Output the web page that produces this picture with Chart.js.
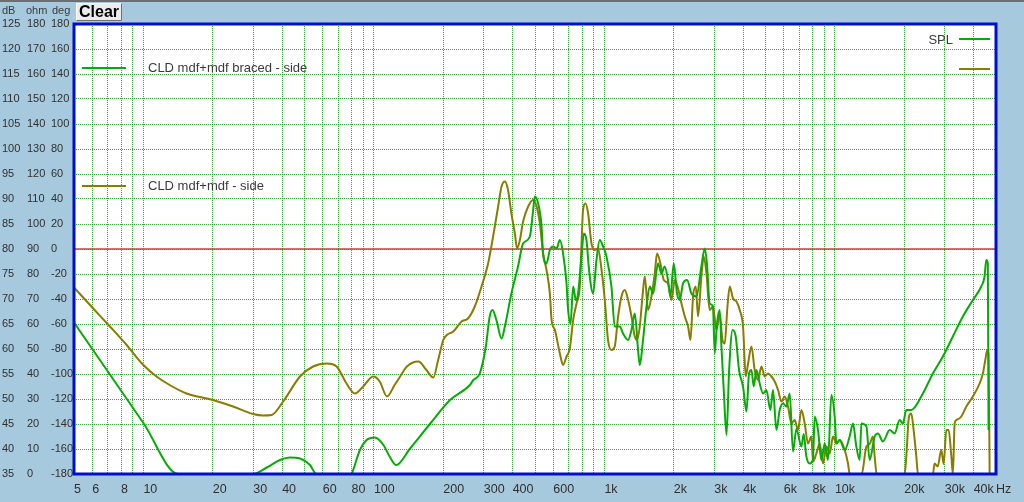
<!DOCTYPE html>
<html>
<head>
<meta charset="utf-8">
<script src="https://cdn.jsdelivr.net/npm/chart.js@4/dist/chart.umd.min.js"></script>
<style>
  html, body { margin: 0; padding: 0; background: #a6c9de; }
  #wrap { width: 1024px; height: 502px; }
</style>
</head>
<body>
<div id="wrap"><canvas id="fr" width="1024" height="502"></canvas></div>
<script>
// frequency grid (Hz) and which of them carry a label
const gridFreqs = [5, 6, 7, 8, 9, 10, 20, 30, 40, 50, 60, 70, 80, 90, 100, 200, 300, 400, 500, 600, 700, 800, 900,
    1000, 2000, 3000, 4000, 5000, 6000, 7000, 8000, 9000, 10000, 20000, 30000, 40000, 50000];
const labelFreqs = [5, 6, 8, 10, 20, 30, 40, 60, 80, 100, 200, 300, 400, 600, 1000, 2000, 3000, 4000, 6000, 8000, 10000, 20000, 30000, 40000, 50000];
const labelTexts = ["5", "6", "8", "10", "20", "30", "40", "60", "80", "100", "200", "300", "400", "600", "1k", "2k", "3k", "4k", "6k", "8k", "10k", "20k", "30k", "40k", "Hz"];

const refLevel = 80; // red reference line, dB

// CLD mdf+mdf braced - side (green)
const bracedFreq = [
    5, 10, 14.2, 29.9, 34.3, 39.1, 43.2, 47.8, 52.8, 56.4,
    80, 81.3, 87, 93, 101, 110, 117, 125, 143, 175,
    214, 261, 270, 288, 306, 318, 327, 340, 358, 370,
    395, 422, 444, 475, 491, 499, 516, 534, 542, 561,
    580, 599, 620, 641, 662, 685, 696, 713, 732, 752,
    769, 796, 814, 836, 858, 893, 924, 955, 987, 1021,
    1073, 1109, 1166, 1205, 1267, 1311, 1355, 1400, 1424, 1471,
    1523, 1574, 1627, 1710, 1768, 1827, 1888, 1934, 1999, 2066,
    2123, 2193, 2284, 2386, 2508, 2635, 2723, 2785, 2863, 2958,
    3010, 3079, 3164, 3219, 3295, 3387, 3477, 3600, 3714, 3838,
    3995, 4133, 4242, 4345, 4445, 4566, 4719, 4878, 5045, 5250,
    5389, 5576, 5763, 5956, 6163, 6368, 6580, 6808, 7157, 7322,
    7521, 7774, 8035, 8173, 8447, 8739, 9033, 9335, 9656, 9980,
    10150, 10490, 11030, 11590, 11980, 12390, 12810, 13030, 13700, 14150,
    14880, 15380, 16160, 17290, 18160, 19090, 19730, 20410, 21450, 24090,
    26620, 29410, 32500, 35910, 39680, 43150, 44600, 45350, 46080, 46410];
const bracedDb = [
    65.3, 45.2, 35, 35, 36.3, 37.8, 38.3, 38.1, 36.8, 35,
    35, 35.8, 39.8, 41.8, 42.3, 40.8, 38.5, 36.8, 40, 45,
    49.8, 52.8, 53.8, 55.1, 60.5, 66.5, 67.8, 65.8, 62.1, 64.5,
    71.1, 76.5, 81.1, 82.5, 87.8, 90.5, 89.1, 84.5, 79.1, 77.1,
    79.8, 80.5, 80.1, 81.8, 79.1, 73.1, 67.8, 65.1, 72.5, 69.8,
    71.1, 78.5, 83.1, 81.8, 75.8, 71.1, 77.8, 81.8, 80.5, 78.5,
    72.5, 64.5, 64.5, 63.1, 61.8, 63.8, 67.1, 59.8, 56.8, 61.8,
    68.5, 72.5, 71.1, 77.1, 75.1, 76.5, 73.8, 70.5, 77.1, 71.1,
    69.8, 73.1, 73.8, 71.1, 70.5, 76.5, 80.1, 77.1, 69.1, 68.5,
    59.1, 65.1, 67.8, 60.5, 51.8, 42.8, 55.8, 63.8, 62.5, 55.8,
    52.5, 47.5, 55.1, 55.8, 52.5, 55.8, 53.1, 51.1, 51.8, 47.8,
    51.8, 43.8, 47.8, 49.1, 48.5, 51.1, 39.5, 44, 40.5, 43,
    38.5, 37.1, 38, 46.5, 43.8, 37.8, 41.1, 37.8, 50.8, 46.5,
    41.1, 41.8, 39.8, 42.5, 45.1, 40.5, 37.8, 45.1, 44.5, 37.8,
    42.5, 43.1, 41.5, 43.8, 43.1, 45.8, 45.1, 47.8, 47.8, 51.1,
    55.1, 58.5, 62.5, 66.5, 69.8, 72.5, 74.5, 77.8, 77.1, 43.8];

// CLD mdf+mdf - side (olive)
const plainFreq = [
    5, 6.06, 7.16, 8.46, 10, 11.4, 13.0, 15.4, 20, 24.5,
    29.9, 33.1, 36, 40.4, 47.8, 54.5, 62.4, 68.9, 76.1, 82.7,
    89.9, 99.3, 106, 114, 123, 130, 139, 156, 169, 181,
    190, 200, 207, 221, 240, 256, 274, 293, 313, 329,
    346, 358, 370, 382, 395, 409, 418, 430, 444, 467,
    491, 508, 525, 542, 561, 580, 590, 610, 641, 662,
    685, 708, 732, 757, 782, 796, 808, 828, 850, 879,
    909, 939, 971, 1004, 1037, 1073, 1109, 1147, 1186, 1226,
    1267, 1311, 1355, 1386, 1424, 1463, 1497, 1547, 1600, 1654,
    1692, 1751, 1810, 1888, 1954, 2020, 2087, 2160, 2233, 2307,
    2363, 2425, 2491, 2549, 2635, 2698, 2772, 2863, 2958, 3063,
    3164, 3252, 3328, 3419, 3499, 3615, 3740, 3866, 3995, 4105,
    4201, 4345, 4489, 4640, 4800, 4962, 5129, 5305, 5483, 5667,
    5861, 6058, 6261, 6477, 6694, 6918, 7157, 7396, 7643, 7910,
    8035, 8310, 8591, 8880, 9187, 9495, 9813, 10150, 10490, 11030,
    11400, 11590, 12190, 13070, 13700, 14150, 14630, 14880, 15180, 20070,
    20410, 20960, 21450, 21960, 22560, 22930, 26620, 27080, 27910, 28960,
    29640, 30440, 31150, 32010, 32500, 33080, 33650, 35370, 37180, 39680,
    42450, 43870, 44930, 45850, 46410, 46920];
const plainDb = [
    72.3, 68.1, 64.5, 60.8, 56.8, 54.5, 52.8, 51.1, 49.8, 48.5,
    47.0, 46.7, 46.8, 49.5, 54.5, 56.5, 57.1, 56.5, 53.1, 51.1,
    52.5, 54.5, 53.5, 50.5, 52.8, 54.5, 56.5, 57.5, 55.8, 54.3,
    57.8, 61.8, 62.8, 63.5, 65.5, 66.1, 68.5, 72.5, 77.1, 82.5,
    88.5, 92.5, 93.5, 91.8, 87.1, 83.1, 80.1, 81.8, 85.5, 88.5,
    89.8, 88.5, 85.1, 79.1, 75.8, 71.1, 65.8, 63.8, 59.1, 56.8,
    58.5, 60.1, 65.8, 69.1, 72.5, 81.1, 87.8, 89.1, 87.1, 81.1,
    79.8, 80.1, 76, 69.8, 61.8, 59.8, 60.5, 66.5, 70.5, 71.8,
    69.8, 66.5, 62.5, 61.8, 64.5, 70.5, 74.5, 67.8, 70.5, 75.1,
    79.1, 77.1, 73.8, 73.1, 69.8, 73.8, 72.1, 69.1, 66.5, 64.5,
    61.8, 70.5, 72.5, 66.5, 74.5, 78.5, 75.1, 67.8, 68.5, 63.8,
    67.1, 61.8, 61.1, 68.5, 72.5, 70.1, 69.5, 67.8, 64.5, 54.5,
    57.1, 60.5, 55.8, 53.8, 56.5, 54.5, 55.1, 54.5, 53.5, 51.8,
    49.5, 50.5, 48.5, 45.1, 45.8, 43.8, 47.8, 45.1, 41.1, 42.5,
    37.5, 39.1, 41.1, 37.1, 40.5, 39.1, 42.5, 41.1, 41.8, 39.8,
    37.1, 35, 35, 35, 40.5, 41, 42.5, 38.5, 35, 35,
    38.5, 46.5, 47.1, 43.8, 38.5, 35, 35, 37.1, 36.5, 39.8,
    37, 43.8, 43.8, 38.5, 35, 45.1, 45.8, 46.5, 48.5, 50.5,
    53.1, 55.1, 57.8, 59.8, 59, 35];

const GREEN = "#08aa08";
const OLIVE = "#8a7c00";
const FONT = "Arial, 'Liberation Sans', sans-serif";

const toPoints = (fs, ds) => fs.map((f, i) => ({ x: f, y: ds[i] }));

// background, frame, legends, header texts and the Clear button
const decor = {
    id: "decor",
    beforeDraw(chart) {
        const { ctx, chartArea: a } = chart;
        ctx.save();
        ctx.fillStyle = "#a6c9de";
        ctx.fillRect(0, 0, chart.width, chart.height);
        ctx.fillStyle = "#6e6e6e";
        ctx.fillRect(0, 0, chart.width, 2);
        ctx.fillStyle = "#ffffff";
        ctx.fillRect(a.left, a.top, a.right - a.left, a.bottom - a.top);
        ctx.restore();
    },
    afterDraw(chart) {
        const { ctx, chartArea: a } = chart;
        ctx.save();
        // blue frame
        ctx.strokeStyle = "#0010c8";
        ctx.lineWidth = 3;
        ctx.strokeRect(a.left, a.top, a.right - a.left, a.bottom - a.top);

        // series legend, top left
        ctx.lineWidth = 2;
        ctx.font = "13px " + FONT;
        ctx.fillStyle = "#3a3a3a";
        ctx.textBaseline = "middle";
        ctx.textAlign = "left";
        [[GREEN, 44, "CLD mdf+mdf braced - side"], [OLIVE, 162, "CLD mdf+mdf - side"]].forEach(([c, dy, t]) => {
            ctx.strokeStyle = c;
            ctx.beginPath();
            ctx.moveTo(a.left + 8, a.top + dy);
            ctx.lineTo(a.left + 52, a.top + dy);
            ctx.stroke();
            ctx.fillText(t, a.left + 74, a.top + dy);
        });

        // curve type legend, top right
        [[GREEN, 15], [OLIVE, 45]].forEach(([c, dy]) => {
            ctx.strokeStyle = c;
            ctx.beginPath();
            ctx.moveTo(a.right - 37, a.top + dy);
            ctx.lineTo(a.right - 6, a.top + dy);
            ctx.stroke();
        });
        ctx.textAlign = "right";
        ctx.fillText("SPL", a.right - 43, a.top + 16);

        // axis headers
        ctx.font = "11px " + FONT;
        ctx.textAlign = "left";
        ctx.fillText("dB", 2, 11);
        ctx.fillText("ohm", 26, 11);
        ctx.fillText("deg", 52, 11);

        // Clear button
        ctx.fillStyle = "#ececec";
        ctx.fillRect(76, 3, 46, 18);
        ctx.strokeStyle = "#ffffff";
        ctx.lineWidth = 1;
        ctx.beginPath();
        ctx.moveTo(76.5, 20.5); ctx.lineTo(76.5, 3.5); ctx.lineTo(121.5, 3.5);
        ctx.stroke();
        ctx.strokeStyle = "#707070";
        ctx.beginPath();
        ctx.moveTo(121.5, 3.5); ctx.lineTo(121.5, 20.5); ctx.lineTo(76.5, 20.5);
        ctx.stroke();
        ctx.fillStyle = "#000";
        ctx.font = "bold 16px " + FONT;
        ctx.textAlign = "center";
        ctx.fillText("Clear", 99, 12.5);
        ctx.restore();
    }
};

const gridColor = "rgba(20,150,20,0.85)";
const tickFont = { family: FONT, size: 11 };
const lineStyle = { borderWidth: 2, pointRadius: 0, cubicInterpolationMode: "monotone" };

new Chart(document.getElementById("fr"), {
    type: "line",
    data: {
        datasets: [
            {
                label: "CLD mdf+mdf braced - side",
                data: toPoints(bracedFreq, bracedDb),
                borderColor: GREEN,
                ...lineStyle,
            },
            {
                label: "CLD mdf+mdf - side",
                data: toPoints(plainFreq, plainDb),
                borderColor: OLIVE,
                ...lineStyle,
            },
            {
                label: "ref",
                data: [{ x: gridFreqs[0], y: refLevel }, { x: gridFreqs[gridFreqs.length - 1], y: refLevel }],
                borderColor: "#cc4040",
                borderWidth: 1.5,
                pointRadius: 0,
            },
        ],
    },
    options: {
        responsive: false,
        animation: false,
        devicePixelRatio: 1,
        layout: { padding: { left: 2, right: 28, top: 24, bottom: 0 } },
        plugins: { legend: { display: false }, tooltip: { enabled: false } },
        scales: {
            x: {
                type: "logarithmic",
                min: 5,
                max: 50000,
                afterBuildTicks(s) {
                    s.ticks = gridFreqs.map((v) => ({ value: v }));
                },
                afterFit(s) {
                    s.height = 28;
                },
                ticks: {
                    autoSkip: false,
                    maxRotation: 0,
                    minRotation: 0,
                    align: "start",
                    padding: 8,
                    color: "#303030",
                    font: { family: FONT, size: 12.5 },
                    callback(v) {
                        const i = labelFreqs.indexOf(v);
                        return i < 0 ? "" : labelTexts[i];
                    },
                },
                grid: { color: gridColor, lineWidth: 1, drawTicks: false },
                border: { display: false, dash: [1, 1] },
            },
            y: {
                position: "left",
                weight: 2,
                min: 35,
                max: 125,
                afterFit(s) {
                    s.width = 25;
                },
                ticks: { stepSize: 5, crossAlign: "far", padding: 0, color: "#303030", font: tickFont },
                grid: { color: gridColor, lineWidth: 1, drawTicks: false },
                border: { display: false, dash: [1, 1] },
            },
            yOhm: {
                position: "left",
                weight: 1,
                min: 0,
                max: 180,
                afterFit(s) {
                    s.width = 24;
                },
                ticks: { stepSize: 10, crossAlign: "far", padding: 0, color: "#303030", font: tickFont },
                grid: { display: false, drawTicks: false },
                border: { display: false },
            },
            yDeg: {
                position: "left",
                weight: 0,
                min: -180,
                max: 180,
                afterFit(s) {
                    s.width = 23;
                },
                ticks: { stepSize: 20, crossAlign: "far", padding: 0, color: "#303030", font: tickFont },
                grid: { display: false, drawTicks: false },
                border: { display: false },
            },
        },
    },
    plugins: [decor],
});
</script>
</body>
</html>
